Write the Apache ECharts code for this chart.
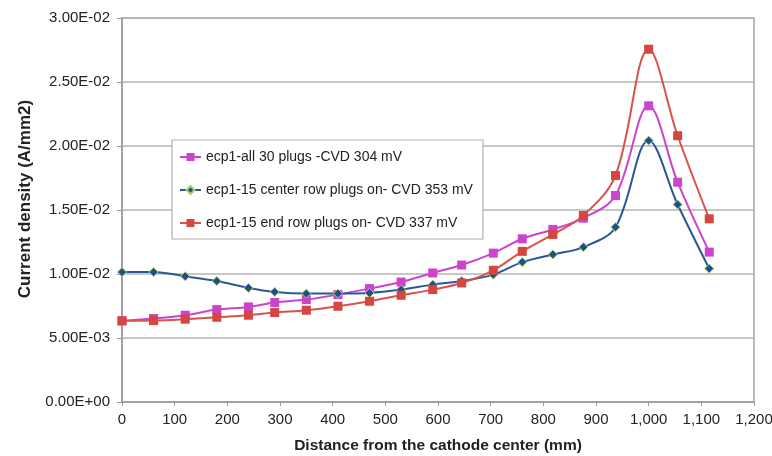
<!DOCTYPE html>
<html>
<head>
<meta charset="utf-8">
<script src="https://cdn.jsdelivr.net/npm/echarts@6/dist/echarts.min.js"></script>
<style>html,body{margin:0;padding:0;background:#fff}#c{width:772px;height:456px}</style>
</head>
<body>
<div id="c"></div>
<script>
const distance = [0, 60, 120, 180, 240, 290, 350, 410, 470, 530, 590, 645, 705, 760, 818, 876, 937, 1000, 1055, 1115];
const all30 = [0.00634, 0.00652, 0.00678, 0.00722, 0.00743, 0.00777, 0.00800, 0.00839, 0.00886, 0.00937, 0.01008, 0.01070, 0.01163, 0.01275, 0.01348, 0.01436, 0.01613, 0.02314, 0.01717, 0.01171];
const center15 = [0.01015, 0.01015, 0.00982, 0.00945, 0.00891, 0.00860, 0.00847, 0.00847, 0.00852, 0.00878, 0.00917, 0.00945, 0.00995, 0.01093, 0.01153, 0.01210, 0.01366, 0.02042, 0.01543, 0.01042];
const end15 = [0.00634, 0.00636, 0.00647, 0.00662, 0.00678, 0.00699, 0.00717, 0.00748, 0.00787, 0.00834, 0.00878, 0.00930, 0.01029, 0.01177, 0.01309, 0.01457, 0.01769, 0.02756, 0.02080, 0.01431];
const seriesNames = ['ecp1-all 30 plugs -CVD 304 mV', 'ecp1-15 center row plugs on- CVD 353 mV', 'ecp1-15 end row plugs on- CVD 337 mV'];
const xTitle = 'Distance from the cathode center (mm)';
const yTitle = 'Current density (A/mm2)';

function sci(v) {
  if (v === 0) return '0.00E+00';
  const e = Math.floor(Math.log10(Math.abs(v)) + 1e-9);
  const m = v / Math.pow(10, e);
  const sign = e < 0 ? '-' : '+';
  const ae = Math.abs(e);
  return m.toFixed(2) + 'E' + sign + (ae < 10 ? '0' + ae : ae);
}
function pair(xs, ys) { return xs.map((x, i) => [x, ys[i]]); }

const chart = echarts.init(document.getElementById('c'));
const font = 'Liberation Sans, Arial, sans-serif';
chart.setOption({
  animation: false,
  textStyle: { fontFamily: font },
  grid: { left: 122, right: 18, top: 18, bottom: 54, show: true, borderColor: '#a6a6a6', borderWidth: 1.5, containLabel: false, outerBoundsMode: 'none' },
  legend: {
    orient: 'vertical', left: 172, top: 140, width: 312,
    padding: [10, 10, 9, 7], itemGap: 19, itemWidth: 21, itemHeight: 10,
    backgroundColor: '#fff', borderColor: '#b0b0b0', borderWidth: 1.2,
    textStyle: { fontSize: 14, color: '#222', fontFamily: font },
    data: seriesNames
  },
  xAxis: {
    type: 'value', min: 0, max: 1200, interval: 100,
    name: xTitle, nameLocation: 'middle', nameGap: 36,
    nameTextStyle: { fontSize: 15.5, fontWeight: 'bold', color: '#222' },
    axisLine: { lineStyle: { color: '#9a9a9a', width: 1.5 } },
    axisTick: { show: true, length: 4, lineStyle: { color: '#9a9a9a' } },
    axisLabel: { fontSize: 15, color: '#222', margin: 10, formatter: v => v.toLocaleString('en-US') },
    splitLine: { show: false }
  },
  yAxis: {
    type: 'value', min: 0, max: 0.03, interval: 0.005,
    name: yTitle, nameLocation: 'middle', nameGap: 88, nameRotate: 90,
    nameTextStyle: { fontSize: 17, fontWeight: 'bold', color: '#222', padding: [0, 0, 0, 22] },
    axisLine: { show: true, lineStyle: { color: '#9a9a9a', width: 1.5 } },
    axisTick: { show: true, length: 5, lineStyle: { color: '#9a9a9a' } },
    axisLabel: { fontSize: 15, color: '#222', margin: 12, formatter: sci },
    splitLine: { show: true, lineStyle: { color: '#b5b5b5', width: 1.5 } }
  },
  series: [
    {
      name: seriesNames[0], type: 'line', smooth: 0.35, data: pair(distance, all30),
      symbol: 'rect', symbolSize: 9,
      lineStyle: { color: '#cc44cc', width: 2 },
      itemStyle: { color: '#cc44cc' }
    },
    {
      name: seriesNames[1], type: 'line', smooth: 0.35, data: pair(distance, center15),
      symbol: 'diamond', symbolSize: 9,
      lineStyle: { color: '#2b5797', width: 2 },
      itemStyle: { color: '#1f4e8c', borderColor: '#a8d060', borderWidth: 1 }
    },
    {
      name: seriesNames[2], type: 'line', smooth: 0.35, data: pair(distance, end15),
      symbol: 'rect', symbolSize: 9,
      lineStyle: { color: '#d9534a', width: 2 },
      itemStyle: { color: '#d4463f' }
    }
  ]
});
</script>
</body>
</html>
